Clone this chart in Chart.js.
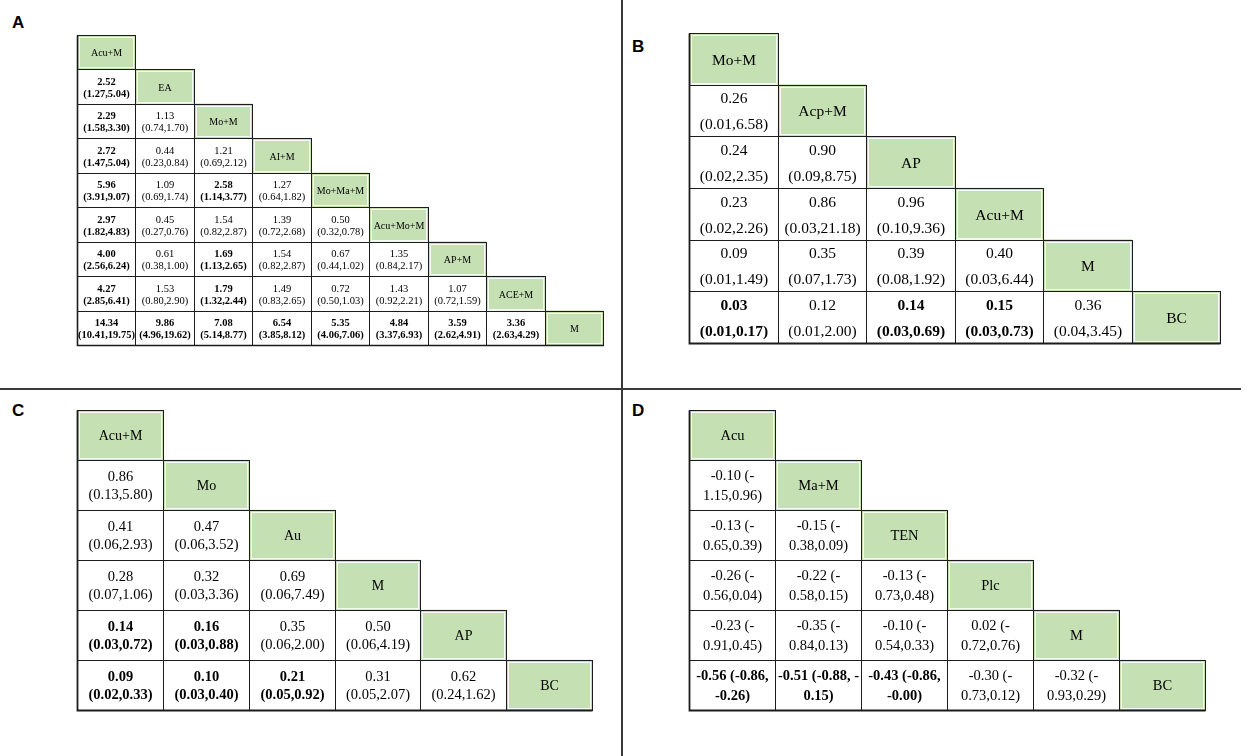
<!DOCTYPE html>
<html>
<head>
<meta charset="utf-8">
<script src="https://cdn.jsdelivr.net/npm/chart.js@4.4.1/dist/chart.umd.min.js"></script>
<style>
  html, body { margin: 0; padding: 0; background: #fff; }
  body { width: 1247px; height: 756px; position: relative; overflow: hidden; font-family: "Liberation Sans", Arial, sans-serif; }
  .box { position: absolute; }
  .lbl { position: absolute; font: 700 17px "Liberation Sans", Arial, sans-serif; color: #000; }
  .vline { position: absolute; left: 621px; top: 0; width: 1.5px; height: 756px; background: #3a3a3a; }
  .hline { position: absolute; left: 0; top: 388px; width: 1241px; height: 1.5px; background: #3a3a3a; }
</style>
</head>
<body>
<div class="vline"></div>
<div class="hline"></div>
<div class="lbl" style="left:12px;top:13px;">A</div>
<div class="lbl" style="left:632px;top:37px;">B</div>
<div class="lbl" style="left:12px;top:401px;">C</div>
<div class="lbl" style="left:632px;top:401px;">D</div>

<div class="box" id="boxA" style="left:75px;top:33px;width:530px;height:314px;"><canvas id="chartA"></canvas></div>
<div class="box" id="boxB" style="left:687px;top:31px;width:535px;height:314px;"><canvas id="chartB"></canvas></div>
<div class="box" id="boxC" style="left:75px;top:408px;width:519px;height:304px;"><canvas id="chartC"></canvas></div>
<div class="box" id="boxD" style="left:687px;top:408px;width:520px;height:304px;"><canvas id="chartD"></canvas></div>

<script>
// ---------------- DATA ----------------
// Panel A
const aTreatments = ['Acu+M', 'EA', 'Mo+M', 'AI+M', 'Mo+Ma+M', 'Acu+Mo+M', 'AP+M', 'ACE+M', 'M'];
const aResults = [
  [],
  ['2.52\n(1.27,5.04)'],
  ['2.29\n(1.58,3.30)', '1.13\n(0.74,1.70)'],
  ['2.72\n(1.47,5.04)', '0.44\n(0.23,0.84)', '1.21\n(0.69,2.12)'],
  ['5.96\n(3.91,9.07)', '1.09\n(0.69,1.74)', '2.58\n(1.14,3.77)', '1.27\n(0.64,1.82)'],
  ['2.97\n(1.82,4.83)', '0.45\n(0.27,0.76)', '1.54\n(0.82,2.87)', '1.39\n(0.72,2.68)', '0.50\n(0.32,0.78)'],
  ['4.00\n(2.56,6.24)', '0.61\n(0.38,1.00)', '1.69\n(1.13,2.65)', '1.54\n(0.82,2.87)', '0.67\n(0.44,1.02)', '1.35\n(0.84,2.17)'],
  ['4.27\n(2.85,6.41)', '1.53\n(0.80,2.90)', '1.79\n(1.32,2.44)', '1.49\n(0.83,2.65)', '0.72\n(0.50,1.03)', '1.43\n(0.92,2.21)', '1.07\n(0.72,1.59)'],
  ['14.34\n(10.41,19.75)', '9.86\n(4.96,19.62)', '7.08\n(5.14,8.77)', '6.54\n(3.85,8.12)', '5.35\n(4.06,7.06)', '4.84\n(3.37,6.93)', '3.59\n(2.62,4.91)', '3.36\n(2.63,4.29)']
];
const aBold = [
  [],
  [1],
  [1, 0],
  [1, 0, 0],
  [1, 0, 1, 0],
  [1, 0, 0, 0, 0],
  [1, 0, 1, 0, 0, 0],
  [1, 0, 1, 0, 0, 0, 0],
  [1, 1, 1, 1, 1, 1, 1, 1]
];

// Panel B
const bTreatments = ['Mo+M', 'Acp+M', 'AP', 'Acu+M', 'M', 'BC'];
const bResults = [
  [],
  ['0.26\n(0.01,6.58)'],
  ['0.24\n(0.02,2.35)', '0.90\n(0.09,8.75)'],
  ['0.23\n(0.02,2.26)', '0.86\n(0.03,21.18)', '0.96\n(0.10,9.36)'],
  ['0.09\n(0.01,1.49)', '0.35\n(0.07,1.73)', '0.39\n(0.08,1.92)', '0.40\n(0.03,6.44)'],
  ['0.03\n(0.01,0.17)', '0.12\n(0.01,2.00)', '0.14\n(0.03,0.69)', '0.15\n(0.03,0.73)', '0.36\n(0.04,3.45)']
];
const bBold = [[], [0], [0, 0], [0, 0, 0], [0, 0, 0, 0], [1, 0, 1, 1, 0]];

// Panel C
const cTreatments = ['Acu+M', 'Mo', 'Au', 'M', 'AP', 'BC'];
const cResults = [
  [],
  ['0.86\n(0.13,5.80)'],
  ['0.41\n(0.06,2.93)', '0.47\n(0.06,3.52)'],
  ['0.28\n(0.07,1.06)', '0.32\n(0.03,3.36)', '0.69\n(0.06,7.49)'],
  ['0.14\n(0.03,0.72)', '0.16\n(0.03,0.88)', '0.35\n(0.06,2.00)', '0.50\n(0.06,4.19)'],
  ['0.09\n(0.02,0.33)', '0.10\n(0.03,0.40)', '0.21\n(0.05,0.92)', '0.31\n(0.05,2.07)', '0.62\n(0.24,1.62)']
];
const cBold = [[], [0], [0, 0], [0, 0, 0], [1, 1, 0, 0], [1, 1, 1, 0, 0]];

// Panel D
const dTreatments = ['Acu', 'Ma+M', 'TEN', 'Plc', 'M', 'BC'];
const dResults = [
  [],
  ['-0.10 (-\n1.15,0.96)'],
  ['-0.13 (-\n0.65,0.39)', '-0.15 (-\n0.38,0.09)'],
  ['-0.26 (-\n0.56,0.04)', '-0.22 (-\n0.58,0.15)', '-0.13 (-\n0.73,0.48)'],
  ['-0.23 (-\n0.91,0.45)', '-0.35 (-\n0.84,0.13)', '-0.10 (-\n0.54,0.33)', '0.02 (-\n0.72,0.76)'],
  ['-0.56 (-0.86,\n-0.26)', '-0.51 (-0.88, -\n0.15)', '-0.43 (-0.86,\n-0.00)', '-0.30 (-\n0.73,0.12)', '-0.32 (-\n0.93,0.29)']
];
const dBold = [[], [0], [0, 0], [0, 0, 0], [0, 0, 0, 0], [1, 1, 1, 0, 0]];

// ---------------- RENDER ----------------
const GREEN = '#c5e0b3';
const LINE = '#1c1c1c';
const SERIF = '"Liberation Serif", "Times New Roman", serif';

const tablePlugin = {
  id: 'leagueTable',
  afterDatasetsDraw(chart) {
    const cfg = chart.options.plugins.leagueTable;
    const ctx = chart.ctx;
    const names = cfg.treatments;
    const n = names.length;
    ctx.save();
    for (let c = 0; c < n; c++) {
      const meta = chart.getDatasetMeta(c);
      for (let r = c; r < n; r++) {
        const el = meta.data[r];
        if (!el) continue;
        const p = el.getProps(['x', 'y', 'base', 'height'], true);
        const x0 = Math.round(Math.min(p.x, p.base)) + 0.5;
        const x1 = Math.round(Math.max(p.x, p.base)) + 0.5;
        const y0 = Math.round(p.y - p.height / 2) + 0.5;
        const y1 = Math.round(p.y + p.height / 2) + 0.5;
        // inner light line for diagonal cells
        if (r === c) {
          ctx.strokeStyle = 'rgba(255,255,255,0.85)';
          ctx.lineWidth = 1;
          ctx.strokeRect(x0 + 2, y0 + 2, x1 - x0 - 4, y1 - y0 - 4);
        }
        ctx.strokeStyle = LINE;
        ctx.lineWidth = cfg.border;
        ctx.strokeRect(x0, y0, x1 - x0, y1 - y0);
        const cx = (x0 + x1) / 2;
        const cy = (y0 + y1) / 2 + cfg.shift;
        ctx.fillStyle = '#000';
        ctx.textAlign = 'center';
        ctx.textBaseline = 'middle';
        if (r === c) {
          ctx.font = cfg.headSize + 'px ' + SERIF;
          ctx.fillText(names[r], cx, cy);
        } else {
          const lines = cfg.results[r][c].split('\n');
          const isBold = cfg.bold[r][c] === 1;
          ctx.font = (isBold ? '700 ' : '400 ') + cfg.size + 'px ' + SERIF;
          const g = cfg.gap;
          const start = cy - g * (lines.length - 1) / 2;
          lines.forEach((ln, i) => ctx.fillText(ln, cx, start + i * g));
        }
      }
    }
    // thicker outer border: left edge and bottom edge
    const xs = chart.scales.x, ys = chart.scales.y;
    const left = Math.round(xs.getPixelForValue(0)) + 0.5;
    const bottom = Math.round(chart.chartArea.bottom) + 0.5;
    const right = Math.round(xs.getPixelForValue(n)) + 0.5;
    const top = Math.round(chart.chartArea.top) + 0.5;
    ctx.strokeStyle = LINE;
    ctx.lineWidth = cfg.outer;
    ctx.beginPath();
    ctx.moveTo(left, top);
    ctx.lineTo(left, bottom);
    ctx.lineTo(right, bottom);
    ctx.stroke();
    ctx.restore();
  }
};

function buildTable(canvasId, treatments, results, bold, style) {
  const n = treatments.length;
  const datasets = treatments.map((name, c) => ({
    label: name,
    data: treatments.map((_, r) => (r >= c ? [c, c + 1] : null)),
    backgroundColor: treatments.map((_, r) => (r === c ? GREEN : '#ffffff')),
    borderWidth: 0,
    grouped: false,
    barPercentage: 1,
    categoryPercentage: 1
  }));
  return new Chart(document.getElementById(canvasId), {
    type: 'bar',
    data: { labels: treatments, datasets },
    options: {
      indexAxis: 'y',
      responsive: true,
      maintainAspectRatio: false,
      animation: false,
      layout: { padding: 2 },
      scales: {
        x: { type: 'linear', min: 0, max: n, display: false },
        y: { type: 'category', display: false, offset: true }
      },
      plugins: {
        legend: { display: false },
        tooltip: { enabled: false },
        leagueTable: Object.assign({ treatments, results, bold }, style)
      }
    },
    plugins: [tablePlugin]
  });
}

buildTable('chartA', aTreatments, aResults, aBold, { size: 10.5, headSize: 10, gap: 12, shift: 1, border: 1, outer: 1.6 });
buildTable('chartB', bTreatments, bResults, bBold, { size: 15.5, headSize: 15.5, gap: 26, shift: 1, border: 1, outer: 1.8 });
buildTable('chartC', cTreatments, cResults, cBold, { size: 14.5, headSize: 14, gap: 18, shift: 1, border: 1, outer: 1.8 });
buildTable('chartD', dTreatments, dResults, dBold, { size: 14.5, headSize: 14.5, gap: 20, shift: 1, border: 1, outer: 1.8 });
</script>
</body>
</html>
